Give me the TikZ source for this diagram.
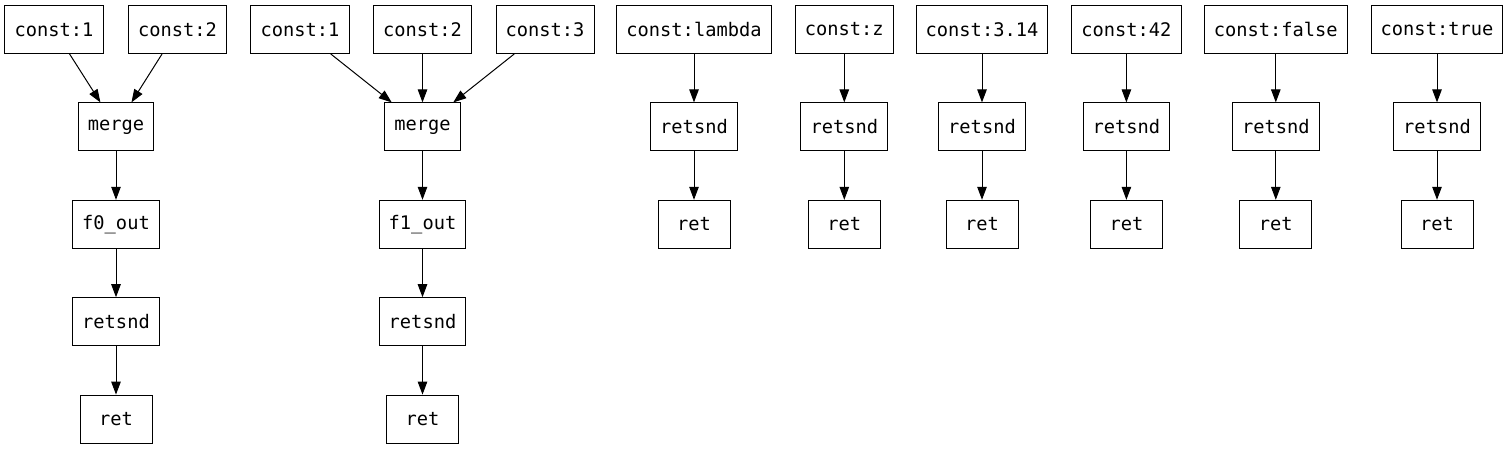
\documentclass[tikz,border=0pt]{standalone}
\usepackage{fontspec}
\setmonofont{DejaVu Sans Mono}
\usetikzlibrary{arrows.meta}
\tikzset{
  box/.style={draw=black, line width=1pt, rectangle, minimum width=72pt, minimum height=48pt,
    inner xsep=9.6pt, inner ysep=0pt, font=\fontsize{18.7pt}{22pt}\selectfont\ttfamily},
  edge/.style={draw=black, line width=1pt, -{Triangle[length=13pt,width=9.5pt]}}
}
\begin{document}
\begin{tikzpicture}[x=1pt,y=-1pt]
\useasboundingbox (0,0) rectangle (1508,449);
\fill[white] (0,0) rectangle (1508,449);
% rows
\def\ra{29.5}\def\rb{126.9}\def\rc{224.3}\def\rd{321.7}\def\re{419.1}
% group 1
\node[box] (a1) at (54,\ra) {const:1};
\node[box] (a2) at (177.5,\ra) {const:2};
\node[box] (am) at (116,\rb) {merge};
\node[box] (ao) at (116,\rc) {f0\_out};
\node[box] (ar) at (116,\rd) {retsnd};
\node[box] (at) at (116,\re) {ret};
\draw[edge] (a1) -- (am);
\draw[edge] (a2) -- (am);
\draw[edge] (am) -- (ao);
\draw[edge] (ao) -- (ar);
\draw[edge] (ar) -- (at);
% group 2
\node[box] (b1) at (300,\ra) {const:1};
\node[box] (b2) at (422.5,\ra) {const:2};
\node[box] (b3) at (545,\ra) {const:3};
\node[box] (bm) at (422.5,\rb) {merge};
\node[box] (bo) at (422.5,\rc) {f1\_out};
\node[box] (br) at (422.5,\rd) {retsnd};
\node[box] (bt) at (422.5,\re) {ret};
\draw[edge] (b1) -- (bm);
\draw[edge] (b2) -- (bm);
\draw[edge] (b3) -- (bm);
\draw[edge] (bm) -- (bo);
\draw[edge] (bo) -- (br);
\draw[edge] (br) -- (bt);
% single chains
\foreach \n/\x/\t in {c/694/lambda, d/844.3/z, e/982/3.14, f/1126.4/42, g/1275.8/false, h/1437/true}{
  \node[box] (\n c) at (\x,\ra) {const:\t};
  \node[box] (\n r) at (\x,\rb) {retsnd};
  \node[box] (\n t) at (\x,\rc) {ret};
  \draw[edge] (\n c) -- (\n r);
  \draw[edge] (\n r) -- (\n t);
}
\end{tikzpicture}
\end{document}
